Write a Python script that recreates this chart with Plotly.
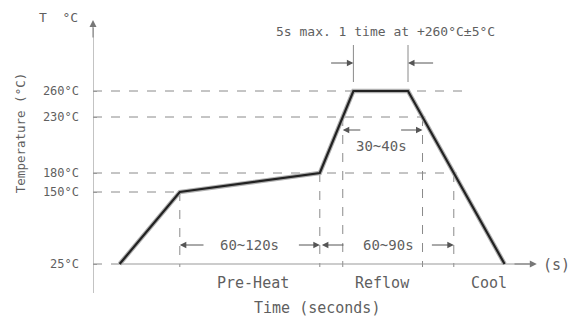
import numpy as np
import plotly.graph_objects as go

# ---------------- data ----------------
temp_labels = ["25°C", "150°C", "180°C", "230°C", "260°C"]
temp_levels = [25, 150, 180, 230, 260]
# schematic (not-to-scale) height of each temperature level on the drawing
level_heights = [0, 72, 91, 147, 173]

profile_time = [19, 62, 162, 186, 225, 294]      # seconds (schematic)
profile_temp = [25, 150, 180, 260, 260, 25]       # °C

phase_labels = ["Pre-Heat", "Reflow", "Cool"]
phase_time = [114, 207, 283]

span_labels = ["60~120s", "60~90s", "30~40s"]
peak_note = "5s max. 1 time at +260°C±5°C"

# ---------------- helpers ----------------
X_RANGE = [0, 340]
Y_RANGE = [-52, 264]

def Y(temp):
    return float(np.interp(temp, temp_levels, level_heights))

prof_y = [Y(t) for t in profile_temp]

def crossing(i, temp):
    """time at which profile segment i -> i+1 reaches temp (in drawing space)"""
    y0, y1 = prof_y[i], prof_y[i + 1]
    t0, t1 = profile_time[i], profile_time[i + 1]
    return t0 + (t1 - t0) * (Y(temp) - y0) / (y1 - y0)

t150 = profile_time[1]
t180 = profile_time[2]
t230_up = crossing(2, 230)
t_peak0, t_peak1 = profile_time[3], profile_time[4]
t230_dn = crossing(4, 230)
t180_dn = crossing(4, 180)

GRAY = "#8a8a8a"
TXT = "#5f5f5f"
FONT = "DejaVu Sans Mono"

fig = go.Figure()

dash = dict(color=GRAY, width=1, dash="dash")
def seg(x0, y0, x1, y1, line):
    fig.add_shape(type="line", xref="x", yref="y", x0=x0, y0=y0, x1=x1, y1=y1, line=line, layer="below")

# dashed reference lines
seg(0, Y(260), 264, Y(260), dash)
seg(0, Y(230), t230_dn + 2, Y(230), dash)
seg(0, Y(180), t180_dn + 2, Y(180), dash)
seg(0, Y(150), t150, Y(150), dash)
seg(0, Y(25), profile_time[0], Y(25), dash)
for tx, temp in [(t150, 150), (t180, 180), (t230_up, 230), (t230_dn, 230), (t180_dn, 180)]:
    seg(tx, Y(temp), tx, Y(25) - 3, dash)

# axes lines
axis_line = dict(color="#9a9a9a", width=1.2)
seg(0, -29, 0, 236, axis_line)
seg(profile_time[0], Y(25), 312, Y(25), axis_line)

# marker lines for the 5s peak
thin = dict(color=GRAY, width=1)
seg(t_peak0, 182, t_peak0, 219, thin)
seg(t_peak1, 182, t_peak1, 219, thin)

# profile
fig.add_trace(go.Scatter(x=profile_time, y=prof_y, mode="lines",
                         line=dict(color="#b0b0b0", width=4.5), hoverinfo="skip", showlegend=False))
fig.add_trace(go.Scatter(x=profile_time, y=prof_y, mode="lines",
                         line=dict(color="#222222", width=2.2), hoverinfo="skip", showlegend=False))

# arrows
def arrow(x, y, ax, ay, color="#555555", size=1.3):
    fig.add_annotation(x=x, y=y, ax=ax, ay=ay, xref="x", yref="y", axref="x", ayref="y",
                       text="", showarrow=True, arrowhead=2, arrowsize=size, arrowwidth=1,
                       arrowcolor=color, standoff=0, startstandoff=0)

arrow(0, 244, 0, 225, color="#777777", size=1.4)         # y-axis arrow
arrow(317, Y(25), 300, Y(25), color="#777777", size=1.4)  # x-axis arrow

arrow(t_peak0, 201, 169, 201)
arrow(t_peak1, 201, 244, 201)
arrow(t230_up, 134, 192, 134)
arrow(t230_dn, 134, 219, 134)
arrow(t150, 19, 80, 19)
arrow(t180, 19, 146, 19)
arrow(t180 + 1.5, 19, 180, 19)
arrow(t180_dn, 19, 241, 19)

def px(t):  # data x -> paper x
    return (t - X_RANGE[0]) / (X_RANGE[1] - X_RANGE[0])

def py(v):
    return (v - Y_RANGE[0]) / (Y_RANGE[1] - Y_RANGE[0])

def text(x, y, s, size=14, anchor="center", **kw):
    fig.add_annotation(x=px(x), y=py(y), xref="paper", yref="paper", text=s, showarrow=False,
                       xanchor=anchor, yanchor="middle",
                       font=dict(family=FONT, size=size, color=TXT), **kw)

text(112, 19, span_labels[0], size=14)
text(211, 19, span_labels[1], size=14)
text(206, 118, span_labels[2], size=14)
text(209, 232, peak_note, size=13)
for lbl, tx in zip(phase_labels, phase_time):
    text(tx, -19, lbl, size=15)
text(160, -44, "Time (seconds)", size=15)
text(331, -1, "(s)", size=15)
text(-9, 246, "T\u00a0\u00a0°C", size=13, anchor="right")
text(-52, 131, "Temperature (°C)", size=12.5, textangle=-90)

fig.update_layout(
    width=569, height=316,
    margin=dict(l=93, r=0, t=0, b=0),
    paper_bgcolor="white", plot_bgcolor="white",
    showlegend=False,
    xaxis=dict(range=X_RANGE, visible=False, fixedrange=True),
    yaxis=dict(range=Y_RANGE, tickvals=level_heights, ticktext=temp_labels,
               ticks="inside", ticklen=4, tickcolor="#9a9a9a", showgrid=False,
               zeroline=False, showline=False, ticklabelstandoff=13, automargin=False,
               tickfont=dict(family=FONT, size=12, color=TXT), fixedrange=True),
)

fig.write_html("out.html", config={"displayModeBar": False},
               post_script="document.body.style.margin='0';")
